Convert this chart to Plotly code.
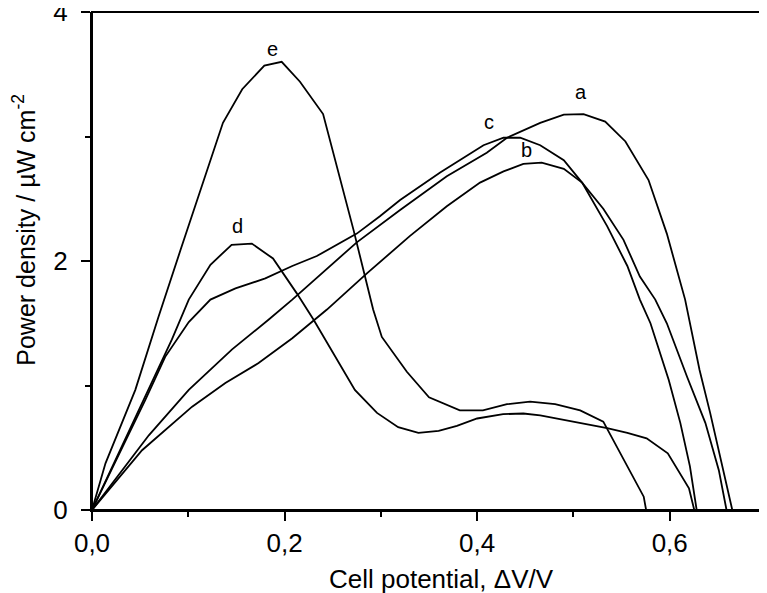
import plotly.graph_objects as go

# Data (cell potential in V, power density in µW cm^-2)
a_x = [0, 0.059, 0.1005, 0.1455, 0.1836, 0.208, 0.275, 0.320, 0.3685, 0.410, 0.431, 0.4655, 0.490, 0.5105, 0.533, 0.554, 0.578, 0.597, 0.616, 0.621, 0.631, 0.642, 0.652, 0.665]
a_y = [0, 0.60, 0.965, 1.29, 1.53, 1.69, 2.15, 2.41, 2.68, 2.87, 2.99, 3.11, 3.175, 3.18, 3.12, 2.96, 2.65, 2.22, 1.69, 1.50, 1.125, 0.78, 0.43, 0]

b_x = [0, 0.052, 0.104, 0.1385, 0.173, 0.208, 0.244, 0.2855, 0.330, 0.3685, 0.403, 0.4274, 0.448, 0.467, 0.490, 0.509, 0.531, 0.552, 0.569, 0.585, 0.597, 0.618, 0.637, 0.651, 0.659]
b_y = [0, 0.48, 0.83, 1.02, 1.18, 1.38, 1.61, 1.90, 2.20, 2.44, 2.63, 2.72, 2.78, 2.79, 2.74, 2.63, 2.42, 2.17, 1.875, 1.69, 1.50, 1.07, 0.70, 0.32, 0]

c_x = [0, 0.0554, 0.076, 0.1005, 0.123, 0.149, 0.18, 0.208, 0.2335, 0.254, 0.275, 0.299, 0.32, 0.3616, 0.4066, 0.4274, 0.4447, 0.4655, 0.49, 0.509, 0.535, 0.556, 0.569, 0.580, 0.599, 0.611, 0.621, 0.628]
c_y = [0, 0.884, 1.23, 1.51, 1.69, 1.78, 1.86, 1.96, 2.04, 2.13, 2.22, 2.36, 2.49, 2.71, 2.93, 2.99, 2.99, 2.93, 2.81, 2.63, 2.28, 1.96, 1.69, 1.50, 1.045, 0.70, 0.35, 0]

d_x = [0, 0.059, 0.083, 0.1005, 0.123, 0.145, 0.166, 0.188, 0.2127, 0.23, 0.251, 0.273, 0.296, 0.318, 0.339, 0.36, 0.379, 0.40, 0.427, 0.448, 0.4655, 0.50, 0.535, 0.556, 0.576, 0.598, 0.620, 0.6255]
d_y = [0, 0.965, 1.37, 1.69, 1.97, 2.13, 2.14, 2.02, 1.74, 1.53, 1.25, 0.965, 0.78, 0.665, 0.62, 0.635, 0.675, 0.735, 0.77, 0.775, 0.76, 0.71, 0.657, 0.62, 0.576, 0.455, 0.174, 0]

e_x = [0, 0.014, 0.045, 0.069, 0.092, 0.1226, 0.136, 0.156, 0.179, 0.197, 0.216, 0.240, 0.2716, 0.292, 0.301, 0.327, 0.350, 0.382, 0.406, 0.431, 0.455, 0.481, 0.507, 0.531, 0.573, 0.5755]
e_y = [0, 0.375, 0.965, 1.55, 2.09, 2.79, 3.11, 3.38, 3.57, 3.60, 3.44, 3.18, 2.25, 1.61, 1.39, 1.11, 0.905, 0.80, 0.80, 0.85, 0.87, 0.85, 0.80, 0.71, 0.107, 0]

series = [("a", a_x, a_y), ("b", b_x, b_y), ("c", c_x, c_y), ("d", d_x, d_y), ("e", e_x, e_y)]

label_names = ["a", "b", "c", "d", "e"]
label_x = [0.508, 0.451, 0.412, 0.151, 0.187]
label_y = [3.36, 2.89, 3.12, 2.28, 3.70]

x_tickvals = [0.0, 0.2, 0.4, 0.6]
x_ticktext = ["0,0", "0,2", "0,4", "0,6"]
x_minor = [0.1, 0.3, 0.5]
y_tickvals = [0, 2, 4]
y_ticktext = ["0", "2", "4"]
y_minor = [1, 3]

x_title = "Cell potential, ΔV/V"
y_title = "Power density / µW cm<sup>-2</sup>"

FONT = "Arial, Liberation Sans, Helvetica, sans-serif"

fig = go.Figure()
for name, xs, ys in series:
    fig.add_trace(go.Scatter(x=xs, y=ys, mode="lines", name=name,
                             line=dict(color="black", width=1.8),
                             showlegend=False, hoverinfo="skip"))

for n, lx, ly in zip(label_names, label_x, label_y):
    fig.add_annotation(x=lx, y=ly, text=n, showarrow=False,
                       font=dict(family=FONT, size=20, color="black"))

# axis titles
fig.add_annotation(xref="paper", yref="paper", x=0.518, y=-0.138, xanchor="center", yanchor="middle",
                   text=x_title, showarrow=False, font=dict(family=FONT, size=26, color="black"))
fig.add_annotation(xref="paper", yref="paper", x=-0.100, y=0.562, xanchor="center", yanchor="middle",
                   text=y_title, textangle=-90, showarrow=False, font=dict(family=FONT, size=25, color="black"))

# frame
fig.add_shape(type="rect", xref="paper", yref="paper", x0=0, y0=0, x1=1, y1=1,
              line=dict(color="black", width=2), layer="above")

# the page body has an 8px margin, so the figure is sized/margined to compensate
fig.update_layout(
    width=759, height=585,
    margin=dict(l=84, r=1, t=4, b=83),
    paper_bgcolor="white", plot_bgcolor="white",
    font=dict(family=FONT, color="black"),
)

common = dict(showgrid=False, zeroline=False, automargin=False,
              showline=True, linecolor="black", linewidth=2,
              ticks="outside", ticklen=9, tickwidth=1.6, tickcolor="black",
              ticklabeloverflow="allow",
              tickfont=dict(size=26, family=FONT, color="black"))

fig.update_xaxes(range=[0, 0.7], tickvals=x_tickvals, ticktext=x_ticktext,
                 minor=dict(tickvals=x_minor, ticks="outside", ticklen=5, tickwidth=1.6, tickcolor="black"),
                 **common)
fig.update_yaxes(range=[0, 4], tickvals=y_tickvals, ticktext=y_ticktext, ticklabelstandoff=8,
                 minor=dict(tickvals=y_minor, ticks="outside", ticklen=5, tickwidth=1.6, tickcolor="black"),
                 **common)

fig.write_html("out.html")
